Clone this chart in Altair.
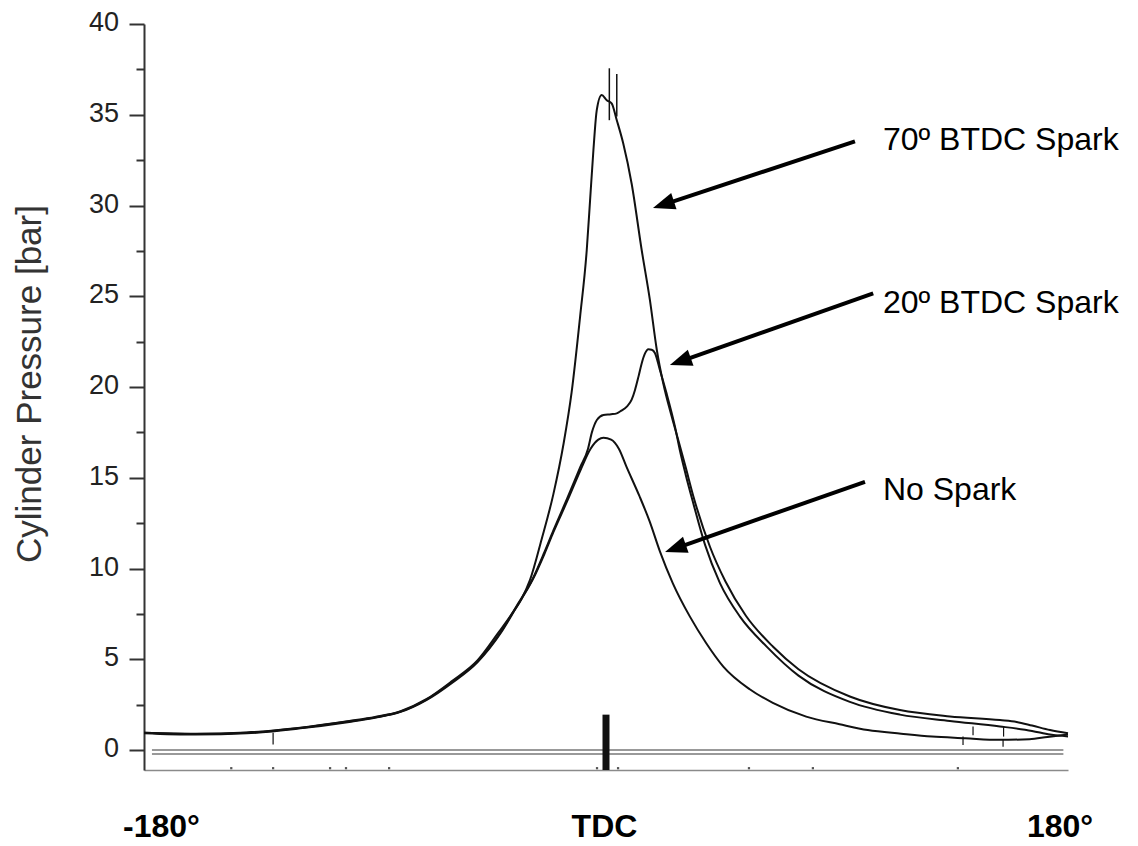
import math
import altair as alt
import pandas as pd

# ---------------- chart geometry ----------------
W, H = 924, 746
X_MIN, X_MAX = -180, 180
Y_MIN, Y_MAX = -1.1, 40
PPD = W / (X_MAX - X_MIN)
PPB = H / (Y_MAX - Y_MIN)
FONT = "Liberation Sans"

# ---------------- data ----------------
nospark_deg = [-180, -160, -140, -120, -100, -90, -80, -70, -60, -50, -41, -35, -28.5, -24, -20.5, -15, -10, -6, -3, -1,
               2, 5, 8, 13, 17, 21, 26, 32.7, 39, 45.7, 56, 65, 78, 91, 102, 115, 127, 140, 153, 165, 172, 180]
nospark_bar = [0.93, 0.85, 0.92, 1.18, 1.55, 1.78, 2.1, 2.75, 3.7, 4.85, 6.45, 7.85, 9.4, 10.8, 12.0, 13.75, 15.4, 16.6, 17.1, 17.2,
               17.1, 16.6, 15.6, 14.0, 12.6, 10.95, 9.2, 7.35, 5.9, 4.6, 3.35, 2.6, 1.84, 1.42, 1.1, 0.9, 0.74, 0.65, 0.56, 0.6, 0.72, 0.85]

btdc20_deg = [-180, -160, -140, -120, -100, -90, -80, -70, -60, -50, -41, -35, -28.5, -24, -20.5, -15, -10, -7, -5.5, -3.5, -1,
              2, 4.2, 6, 8.1, 10, 11.3, 12.7, 13.9, 15.2, 16.5, 17.8, 19.1, 21, 23.6, 26.9, 28.8, 31, 34, 38.6, 44.4, 52.2,
              62.6, 75, 95, 114.5, 134, 153.5, 166, 173, 180]
btdc20_bar = [0.95, 0.88, 0.95, 1.2, 1.58, 1.8, 2.12, 2.78, 3.75, 4.9, 6.5, 7.9, 9.45, 10.9, 12.1, 13.9, 15.6, 16.6, 17.5, 18.2, 18.46,
              18.5, 18.55, 18.7, 18.92, 19.3, 19.84, 20.6, 21.3, 21.85, 22.08, 22.05, 21.86, 20.94, 19.65, 17.8, 16.5, 15.2, 13.6, 11.3, 9.2, 7.35,
              5.7, 4.1, 2.65, 1.95, 1.6, 1.3, 1.05, 0.85, 0.75]

btdc70_deg = [-180, -160, -140, -120, -100, -90, -80, -70, -60, -50, -42, -37.4, -33, -29.6, -25.1, -20.5, -16.5, -13.4, -10.1,
              -7.5, -6.2, -4.9, -3.6, -1.7, 0.3, 2.2, 4.2, 6.7, 10, 13.9, 17.1, 19.8, 22.3, 25.6, 28.5, 31, 34, 40.5, 46.5,
              54.5, 65, 75, 95, 114.5, 134, 153.5, 160, 166, 173, 180]
btdc70_bar = [0.95, 0.9, 0.97, 1.22, 1.6, 1.82, 2.14, 2.8, 3.8, 4.95, 6.45, 7.35, 8.3, 9.37, 11.6, 14.1, 16.9, 19.7, 23.87,
              27.55, 30.3, 33.06, 35.26, 36.09, 35.8, 35.63, 34.7, 33.43, 31.2, 27.55, 24.8, 22.04, 20.2, 18.37, 16.9, 15.6, 14.0, 11.2, 9.3,
              7.4, 5.7, 4.45, 2.95, 2.2, 1.85, 1.65, 1.55, 1.35, 1.1, 0.92]

# spark-noise spikes on the 70 deg trace and noise drops on the tails
spike_deg = [1.3, 4.2]
spike_top = [37.56, 37.25]
spike_bot = [34.7, 34.9]
noise_deg = [-129.7, 139.1, 143.0, 154.7, 154.9]
noise_top = [0.95, 0.74, 1.29, 0.56, 1.29]
noise_bot = [0.3, 0.28, 0.81, 0.18, 0.74]

# TDC marker and double baseline
tdc_deg = [0]
tdc_top = [1.95]
tdc_bot = [-1.1]
base_y = [0, -0.22]
base_x1 = [-176.9, -176.9]
base_x2 = [178.2, 178.2]

# tiny dots on the bottom axis
dot_deg = [-146, -129.7, -107.5, -101.3, -84.5, -3.5, 4.7, 55.7, 80.6, 137.1]

# y axis ticks
y_major = [0, 5, 10, 15, 20, 25, 30, 35, 40]
y_minor = [2.5, 7.5, 12.5, 17.5, 22.5, 27.5, 32.5, 37.5]

# annotations
ann_text = ["70º BTDC Spark", "20º BTDC Spark", "No Spark"]
ann_x = [107.9, 107.9, 107.9]
ann_y = [33.61, 24.65, 14.31]
arr_x1 = [97.0, 104.1, 100.9]
arr_y1 = [33.53, 25.16, 14.78]
arr_x2 = [18.3, 24.9, 23.0]
arr_y2 = [29.86, 21.21, 10.91]

# bottom labels
bl_text = ["-180°", "TDC", "180°"]
bl_x = [-173.2, -0.6, 176.9]
bl_y = [-4.25, -4.25, -4.25]

# ---------------- tables ----------------
rows = []
for name, xs_, ys_ in [("No Spark", nospark_deg, nospark_bar),
                       ("20 BTDC", btdc20_deg, btdc20_bar),
                       ("70 BTDC", btdc70_deg, btdc70_bar)]:
    for a, b in zip(xs_, ys_):
        rows.append({"deg": a, "bar": b, "series": name})
curves = pd.DataFrame(rows)

spikes = pd.DataFrame({"deg": spike_deg + noise_deg + tdc_deg,
                       "top": spike_top + noise_top + tdc_top,
                       "bot": spike_bot + noise_bot + tdc_bot,
                       "w": [1.5] * len(spike_deg) + [1.2] * len(noise_deg) + [7] * len(tdc_deg)})

base = pd.DataFrame({"y": base_y, "x1": base_x1, "x2": base_x2})
dots = pd.DataFrame({"deg": dot_deg, "bar": [-1.0] * len(dot_deg)})

# arrow shafts end a little before the tip; heads rotated to the shaft direction
shaft_rows, head_rows = [], []
for x1, y1, x2, y2 in zip(arr_x1, arr_y1, arr_x2, arr_y2):
    dxp = (x2 - x1) * PPD
    dyp = -(y2 - y1) * PPB
    L = math.hypot(dxp, dyp)
    ux, uy = dxp / L, dyp / L
    back = 12
    ex = x2 - ux * back / PPD
    ey = y2 + uy * back / PPB
    shaft_rows.append({"x1": x1, "y1": y1, "x2": ex, "y2": ey})
    ang = math.degrees(math.atan2(dyp, dxp)) % 360
    head_rows.append({"x": x2, "y": y2, "ang": ang})
shafts = pd.DataFrame(shaft_rows)
heads = pd.DataFrame(head_rows)

ann = pd.DataFrame({"t": ann_text, "x": ann_x, "y": ann_y})
blab = pd.DataFrame({"t": bl_text, "x": bl_x, "y": bl_y})

# ---------------- scales / axes ----------------
xs = alt.Scale(domain=[X_MIN, X_MAX], nice=False, zero=False)
ys = alt.Scale(domain=[Y_MIN, Y_MAX], nice=False, zero=False)

x_axis = alt.Axis(title=None, labels=False, ticks=False, grid=False,
                  domainColor="#8a8a8a", domainWidth=1.5)
y_axis = alt.Axis(
    title="Cylinder Pressure [bar]",
    values=sorted(y_major + y_minor),
    labelExpr="datum.value % 5 === 0 ? format(datum.value, 'd') : ''",
    tickSize={"condition": {"test": "datum.value % 5 === 0", "value": 15}, "value": 8},
    tickWidth=2, tickColor="#333", domainColor="#333", domainWidth=2, grid=False,
    labelFont=FONT, labelFontSize=27, labelColor="#222", labelPadding=10.5,
    labelOffset=-1.5,
    titleFont=FONT, titleFontSize=35, titleFontWeight="normal", titleColor="#333",
    titleAngle=270, titleAlign="center", titleBaseline="middle",
    titleX=-114.5, titleY=359.5,
)


def X(field):
    return alt.X(field, scale=xs, axis=x_axis)


def Y(field):
    return alt.Y(field, scale=ys, axis=y_axis)


lines = alt.Chart(curves).mark_line(
    interpolate="monotone", strokeWidth=2, color="#111"
).encode(
    x=X("deg:Q"),
    y=Y("bar:Q"),
    detail="series:N",
)

spike_layer = alt.Chart(spikes).mark_rule(color="#111").encode(
    x=X("deg:Q"),
    y=Y("top:Q"),
    y2="bot:Q",
    strokeWidth=alt.StrokeWidth("w:Q", scale=None),
)

base_layer = alt.Chart(base).mark_rule(color="#777", strokeWidth=1.5).encode(
    x=X("x1:Q"),
    x2="x2:Q",
    y=Y("y:Q"),
)

dot_layer = alt.Chart(dots).mark_square(color="#555", size=5, opacity=1).encode(
    x=X("deg:Q"),
    y=Y("bar:Q"),
)

shaft_layer = alt.Chart(shafts).mark_rule(color="black", strokeWidth=4, strokeCap="butt").encode(
    x=X("x1:Q"),
    y=Y("y1:Q"),
    x2="x2:Q",
    y2="y2:Q",
)

head_layer = alt.Chart(heads).mark_point(
    shape="M0,0L-2.2,-0.85L-2.2,0.85Z", filled=True, size=400, color="black", opacity=1, strokeWidth=0
).encode(
    x=X("x:Q"),
    y=Y("y:Q"),
    angle=alt.Angle("ang:Q", scale=None),
)

ann_layer = alt.Chart(ann).mark_text(
    align="left", baseline="middle", font=FONT, fontSize=32, color="black"
).encode(
    x=X("x:Q"),
    y=Y("y:Q"),
    text="t:N",
)

blab_layer = alt.Chart(blab).mark_text(
    align="center", baseline="middle", font=FONT, fontSize=32, fontWeight="bold", color="black"
).encode(
    x=X("x:Q"),
    y=Y("y:Q"),
    text="t:N",
)

chart = alt.layer(
    lines, base_layer, dot_layer, spike_layer, shaft_layer, head_layer, ann_layer, blab_layer
).properties(
    width=W, height=H,
    padding={"left": 144, "top": 24, "right": 70, "bottom": 76},
    autosize=alt.AutoSizeParams(type="none"),
    background="white",
).configure_view(stroke=None)

chart.save("out.html", embed_options={"renderer": "svg", "actions": False})
